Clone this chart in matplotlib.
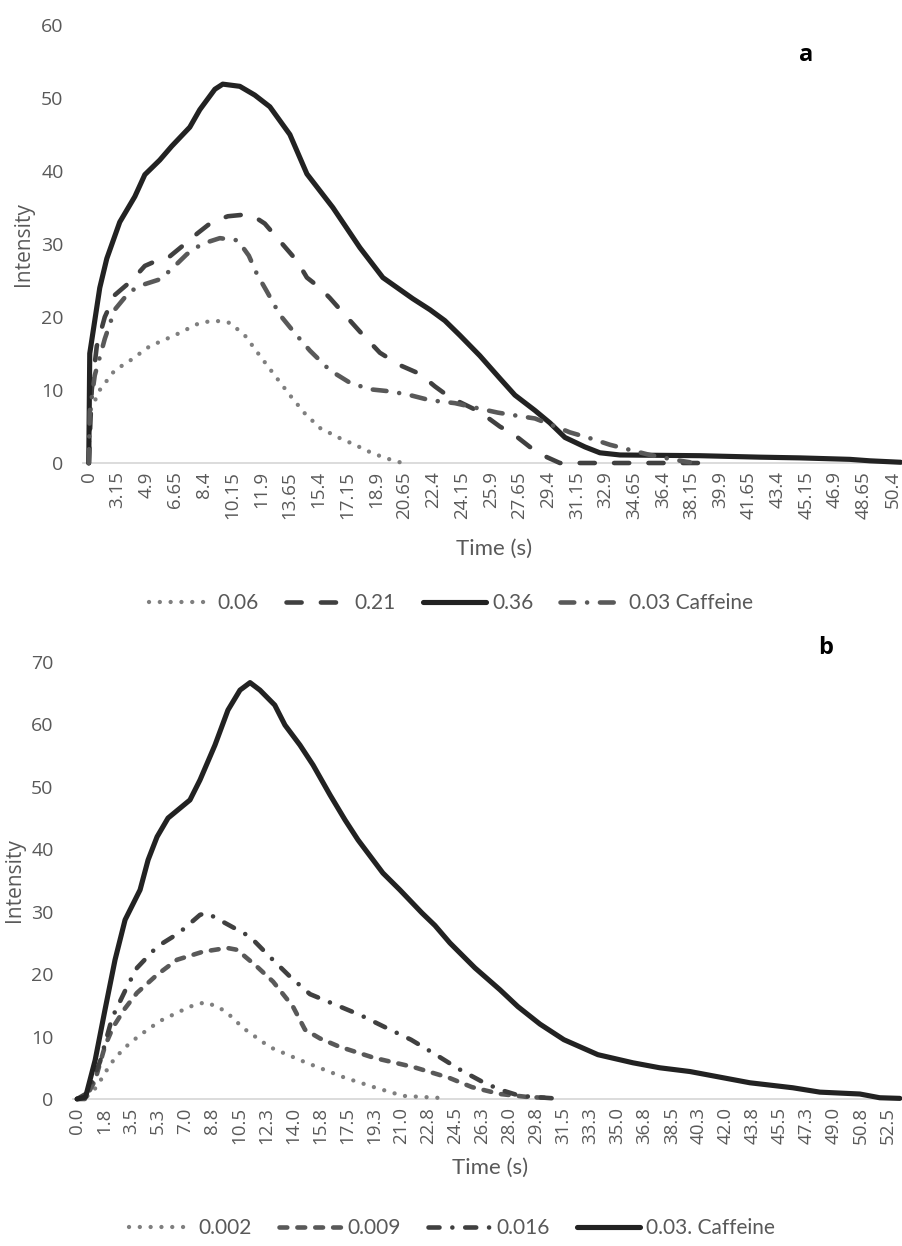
import numpy as np
import matplotlib
matplotlib.use("Agg")
import matplotlib.pyplot as plt

W, H = 902, 1246

# ---------------- panel a ----------------
a_tick_labels = ['0', '3.15', '4.9', '6.65', '8.4', '10.15', '11.9', '13.65', '15.4', '17.15',
                 '18.9', '20.65', '22.4', '24.15', '25.9', '27.65', '29.4', '31.15', '32.9',
                 '34.65', '36.4', '38.15', '39.9', '41.65', '43.4', '45.15', '46.9', '48.65', '50.4']

a_t_006 = [0, 0.11, 1.21, 2.85, 3.90, 5.12, 6.65, 8.17, 9.09, 10.0, 10.91, 11.83, 12.74,
           13.66, 14.57, 15.49, 16.71, 17.62, 18.54, 19.45, 20.37, 20.98]
a_v_006 = [0, 7, 10, 12.7, 14, 16, 17.5, 19.2, 19.5, 19.2, 17.5, 14.7, 12,
           9.3, 6.8, 4.8, 3.4, 2.5, 1.5, 0.7, 0.1, 0]

a_t_021 = [0, 0.33, 0.88, 1.76, 2.85, 4.02, 4.82, 5.73, 6.34, 7.26, 8.05, 8.90, 9.88, 10.79,
           11.52, 12.13, 13.05, 14.09, 14.70, 15.49, 16.10, 17.01, 17.93, 19.15, 20.37, 21.59,
           22.5, 23.41, 24.33, 25.24, 26.46, 27.38, 28.29, 29.33, 30.12, 39.57]
a_v_021 = [0, 10, 16, 20, 23, 25, 27, 27.9, 28.3, 30, 31.5, 33, 33.8, 34,
           33.7, 32.8, 30.4, 27.7, 25.4, 24, 22.6, 20.3, 18, 15.1, 13.4, 12.2,
           10.5, 9.0, 8.0, 7.0, 5.0, 3.8, 2.2, 0.8, 0, 0]

a_t_036 = [0, 0.11, 1.21, 1.98, 3.29, 4.21, 4.82, 5.73, 6.46, 7.56, 8.17, 9.09, 9.57, 10.61,
           11.52, 12.44, 13.66, 14.70, 16.28, 17.93, 19.33, 21.16, 22.20, 23.11, 24.02, 25.24,
           26.46, 27.38, 28.60, 29.51, 30.43, 31.65, 32.56, 33.78, 38.66, 42.32, 44.76, 47.80,
           49.02, 50.9]
a_v_036 = [0, 15, 24, 28, 33, 36.5, 39.5, 41.5, 43.4, 46, 48.4, 51.2, 51.9, 51.6,
           50.4, 48.8, 45, 39.6, 35, 29.5, 25.4, 22.5, 21, 19.5, 17.5, 14.7,
           11.6, 9.3, 7.2, 5.5, 3.5, 2.2, 1.4, 1.1, 1.0, 0.8, 0.7, 0.5,
           0.3, 0.1]

a_t_caf = [0, 0.11, 0.66, 1.76, 2.85, 3.90, 4.82, 5.79, 6.65, 7.38, 8.29, 9.39, 10.49, 11.16,
           11.65, 12.26, 13.05, 13.96, 14.88, 16.10, 17.32, 18.54, 19.82, 20.98, 22.20, 23.72,
           25.12, 26.34, 27.44, 28.60, 29.63, 30.73, 31.95, 33.17, 34.39, 35.61, 37.20, 38.05]
a_v_caf = [0, 7, 12, 17, 21, 23.5, 24.5, 25.2, 27, 28.6, 30, 30.8, 30.5, 28.4,
           25.9, 23.5, 20.3, 17.8, 15.4, 12.7, 11, 10.1, 9.8, 9.3, 8.6, 8.2,
           7.5, 6.9, 6.5, 6.1, 5.2, 4.2, 3.4, 2.5, 1.8, 1.1, 0.4, 0.1]

# ---------------- panel b ----------------
b_tick_labels = ['0.0', '1.8', '3.5', '5.3', '7.0', '8.8', '10.5', '12.3', '14.0', '15.8',
                 '17.5', '19.3', '21.0', '22.8', '24.5', '26.3', '28.0', '29.8', '31.5', '33.3',
                 '35.0', '36.8', '38.5', '40.3', '42.0', '43.8', '45.5', '47.3', '49.0', '50.8', '52.5']
b_step = 1.75

b_t_0002 = [0, 0.71, 1.29, 1.81, 2.46, 3.43, 4.34, 5.37, 6.21, 7.31, 8.28, 9.19, 10.1, 10.68,
            12.49, 14.76, 17.35, 19.22, 21.1, 23.3, 23.95]
b_v_0002 = [0, 0.5, 2, 4.2, 6.6, 9, 10.7, 12.5, 13.5, 14.8, 15.5, 14.7, 13, 11.5,
            8.3, 5.9, 3.4, 1.9, 0.5, 0.2, 0.1]

b_t_0009 = [0, 0.52, 1.17, 1.81, 2.33, 3.1, 3.88, 5.18, 6.47, 8.16, 9.71, 10.36, 11.65, 12.69,
            13.98, 14.76, 15.73, 16.96, 19.22, 21.81, 24.08, 25.57, 27.38, 29.26, 30.3]
b_v_0009 = [0, 0, 3, 8.5, 11.5, 14.5, 17, 19.9, 22.3, 23.6, 24.2, 23.9, 21.2, 18.8,
            14.8, 11.1, 9.7, 8.4, 6.6, 5.1, 3.4, 1.9, 0.8, 0.3, 0.2]

b_t_0016 = [0, 0.7, 1.49, 2.27, 3.24, 3.88, 5.18, 6.6, 7.96, 8.4, 9.58, 11.2, 12.43, 13.79,
            15.08, 16.83, 18.38, 19.94, 21.62, 23.1, 24.72, 26.28, 27.38, 28.67, 30.3, 31.46]
b_v_0016 = [0, 1, 6, 13, 18, 21, 24.4, 26.6, 29.5, 29.8, 28.2, 26, 22.9, 19.6,
            16.8, 15, 13.4, 11.5, 9.5, 7.3, 4.8, 2.7, 1.5, 0.5, 0.2, 0]

b_t_caf = [0, 0.55, 1.17, 1.81, 2.46, 3.11, 4.08, 4.6, 5.18, 5.89, 7.31, 7.96, 8.93, 9.77,
           10.55, 11.2, 11.84, 12.8, 13.46, 14.43, 15.28, 16.38, 17.35, 18.19, 19.8, 20.9,
           22.33, 23.17, 24.14, 25.76, 27.38, 28.54, 29.97, 31.52, 33.72, 35.99, 37.73, 39.68,
           41.62, 43.56, 46.34, 48.09, 50.68, 51.97, 53.27]
b_v_caf = [0, 0.3, 6.2, 14.3, 22.3, 28.7, 33.5, 38.3, 42, 45, 47.9, 51.1, 56.7, 62.3,
           65.5, 66.7, 65.5, 63.1, 59.9, 56.7, 53.5, 48.7, 44.7, 41.5, 36.2, 33.5,
           29.8, 27.8, 25, 21, 17.5, 14.8, 12, 9.5, 7.1, 5.8, 5.0, 4.4,
           3.5, 2.6, 1.8, 1.1, 0.8, 0.2, 0.1]

# category axis of panel a: time -> label index
a_tick_vals = [float(s) for s in a_tick_labels]
a_interp_vals = a_tick_vals + [a_tick_vals[-1] + 1.75]


def a_pos(t):
    return np.interp(t, a_interp_vals, np.arange(len(a_interp_vals)))


def b_pos(t):
    return np.asarray(t) / b_step


DOT = dict(dashes=(0.01, 2.5), dash_capstyle='round', lw=3.1)
LDASH = dict(dashes=(3.3, 4.2), dash_capstyle='round', lw=3.3)
LDASHDOT = dict(dashes=(3.0, 2.8, 0.01, 2.8), dash_capstyle='round', lw=3.3)
DASH = dict(dashes=(1.7, 2.2), dash_capstyle='round', lw=3.3)
DASHDOT = dict(dashes=(2.4, 2.8, 0.01, 2.8), dash_capstyle='round', lw=3.3)
SOLID = dict(solid_capstyle='round', lw=3.7)

TXT = '#595959'

fig = plt.figure(figsize=(W / 100, H / 100), dpi=100)


def px_axes(left, top, right, bottom):
    return fig.add_axes([left / W, 1 - bottom / H, (right - left) / W, (bottom - top) / H])


def style_axis(ax, yticks, labels, xlim, ylim):
    for s in ['top', 'right', 'left']:
        ax.spines[s].set_visible(False)
    ax.spines['bottom'].set_color('#d9d9d9')
    ax.spines['bottom'].set_linewidth(1.3)
    ax.set_xlim(*xlim)
    ax.set_ylim(*ylim)
    ax.set_yticks(yticks)
    ax.set_yticklabels([str(v) for v in yticks], fontfamily='Open Sans', fontsize=14, color=TXT)
    ax.set_xticks(np.arange(len(labels)))
    ax.set_xticklabels(labels, rotation=90, fontfamily='Open Sans', fontsize=13.5, color=TXT)
    ax.tick_params(axis='y', length=0, pad=14)
    ax.tick_params(axis='x', length=0, pad=6)


# panel a
ax_a = px_axes(83, 25, 902, 463)
h1, = ax_a.plot(a_pos(a_t_006), a_v_006, color='#7f7f7f', label='0.06', zorder=3, clip_on=False, **DOT)
h2, = ax_a.plot(a_pos(a_t_021), a_v_021, color='#404040', label='0.21', zorder=3, clip_on=False, **LDASH)
h3, = ax_a.plot(a_pos(a_t_036), a_v_036, color='#222222', label='0.36', zorder=3, clip_on=False, **SOLID)
h4, = ax_a.plot(a_pos(a_t_caf), a_v_caf, color='#595959', label='0.03 Caffeine', zorder=3, clip_on=False, **LDASHDOT)
style_axis(ax_a, list(range(0, 61, 10)), a_tick_labels, (-0.2, 28.33), (0, 60))

# panel b
ax_b = px_axes(73, 662, 902, 1099)
g1, = ax_b.plot(b_pos(b_t_0002), b_v_0002, color='#7f7f7f', label='0.002', zorder=3, clip_on=False, **DOT)
g2, = ax_b.plot(b_pos(b_t_0009), b_v_0009, color='#595959', label='0.009', zorder=3, clip_on=False, **DASH)
g3, = ax_b.plot(b_pos(b_t_0016), b_v_0016, color='#404040', label='0.016', zorder=3, clip_on=False, **DASHDOT)
g4, = ax_b.plot(b_pos(b_t_caf), b_v_caf, color='#222222', label='0.03. Caffeine', zorder=3, clip_on=False, **SOLID)
style_axis(ax_b, list(range(0, 71, 10)), b_tick_labels, (-0.15, 30.52), (0, 70))

# axis titles
fig.text(23 / W, 1 - 244 / H, 'Intensity', rotation=90, ha='center', va='center',
         fontfamily='Open Sans', fontsize=15, color=TXT)
fig.text(15 / W, 1 - 880 / H, 'Intensity', rotation=90, ha='center', va='center',
         fontfamily='Open Sans', fontsize=15, color=TXT)
fig.text(494 / W, 1 - 549 / H, 'Time (s)', ha='center', va='center',
         fontfamily='Lato', fontsize=16, color=TXT)
fig.text(490 / W, 1 - 1168 / H, 'Time (s)', ha='center', va='center',
         fontfamily='Lato', fontsize=16, color=TXT)

# panel letters
fig.text(806 / W, 1 - 55 / H, 'a', ha='center', va='center', fontfamily='Open Sans',
         fontweight='bold', fontsize=17, color='black')
fig.text(826 / W, 1 - 648 / H, 'b', ha='center', va='center', fontfamily='Open Sans',
         fontweight='bold', fontsize=17, color='black')

# legends
leg_kw = dict(loc='center', ncol=4, frameon=False, handlelength=3.0, handletextpad=0.3,
              columnspacing=1.3, prop={'family': 'Lato', 'size': 15}, labelcolor=TXT)
fig.legend([h1, h2, h3, h4], ['0.06', '0.21', '0.36', '0.03 Caffeine'],
           bbox_to_anchor=(451 / W, 1 - 603 / H), **leg_kw)
fig.legend([g1, g2, g3, g4], ['0.002', '0.009', '0.016', '0.03. Caffeine'],
           bbox_to_anchor=(452 / W, 1 - 1228 / H), **leg_kw)

fig.savefig('out.png', dpi=100, facecolor='white')
